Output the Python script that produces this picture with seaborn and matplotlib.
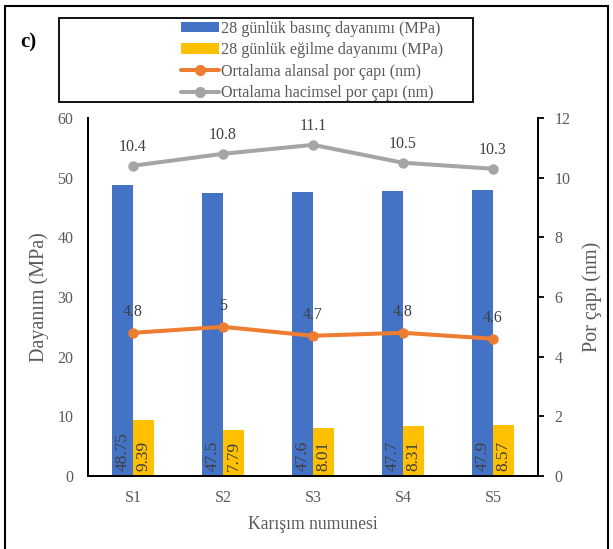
import matplotlib
matplotlib.use("Agg")
import matplotlib.pyplot as plt
from matplotlib.patches import Rectangle
from matplotlib.lines import Line2D
from matplotlib.patches import Patch
import seaborn as sns
import pandas as pd

samples = ["S1", "S2", "S3", "S4", "S5"]
compressive = [48.75, 47.5, 47.6, 47.7, 47.9]
flexural = [9.39, 7.79, 8.01, 8.31, 8.57]
pore_area = [4.8, 5, 4.7, 4.8, 4.6]
pore_volume = [10.4, 10.8, 11.1, 10.5, 10.3]

lbl_comp = "28 günlük basınç dayanımı (MPa)"
lbl_flex = "28 günlük eğilme dayanımı (MPa)"
lbl_area = "Ortalama alansal por çapı (nm)"
lbl_vol = "Ortalama hacimsel por çapı (nm)"

BLUE = "#4472C4"
YELLOW = "#FFC000"
ORANGE = "#ED7D31"
GRAY = "#A5A5A5"
TXT = "#595959"
LBL = "#404040"

sns.set_theme(style="white")
plt.rcParams["font.family"] = ["Liberation Serif", "DejaVu Serif"]

bars = pd.DataFrame({
    "sample": samples * 2,
    "value": compressive + flexural,
    "series": [lbl_comp] * 5 + [lbl_flex] * 5,
})
lines = pd.DataFrame({
    "x": list(range(5)) * 2,
    "value": pore_area + pore_volume,
    "series": [lbl_area] * 5 + [lbl_vol] * 5,
})

fig = plt.figure(figsize=(6.13, 5.49), dpi=100)
ax = fig.add_axes([88 / 613, 1 - 476 / 549, 450 / 613, 358 / 549])

sns.barplot(data=bars, x="sample", y="value", hue="series",
            palette=[BLUE, YELLOW], width=0.47, gap=0, ax=ax,
            legend=False, edgecolor="none", saturation=1)
ax.set_ylim(0, 60)
ax.set_yticks(range(0, 61, 10))
ax.set_xlim(-0.5, 4.5)

# value labels written vertically at the foot of each bar
for cont, vals in zip(ax.containers, [compressive, flexural]):
    for rect, v in zip(cont, vals):
        ax.text(rect.get_x() + rect.get_width() / 2, 0.8, f"{v:g}",
                rotation=90, ha="center", va="bottom", fontsize=12.5,
                color=LBL)

ax2 = ax.twinx()
sns.lineplot(data=lines, x="x", y="value", hue="series",
             palette=[ORANGE, GRAY], marker="o", markersize=7.5,
             markeredgecolor="none", linewidth=2.9, ax=ax2, legend=False)
ax2.set_ylim(0, 12)
ax2.set_yticks(range(0, 13, 2))
ax2.set_xlim(-0.5, 4.5)

for i, v in enumerate(pore_volume):
    ax2.annotate(f"{v:g}", (i, v), xytext=(0, 8), textcoords="offset points",
                 ha="center", va="bottom", fontsize=11.5, color=LBL)
for i, v in enumerate(pore_area):
    ax2.annotate(f"{v:g}", (i, v), xytext=(0, 9), textcoords="offset points",
                 ha="center", va="bottom", fontsize=11.5, color=LBL)

for a in (ax, ax2):
    for s in a.spines.values():
        s.set_color("black")
        s.set_linewidth(1.3)
    a.spines["top"].set_visible(False)

ax.set_xlabel("Karışım numunesi", fontsize=12.7, color=TXT, labelpad=7)
ax.set_ylabel("Dayanım (MPa)", fontsize=14.5, color=TXT, labelpad=6)
ax2.set_ylabel("Por çapı (nm)", fontsize=14.5, color=TXT, labelpad=8)

ax.tick_params(axis="y", length=0, pad=10.5, labelsize=11.5, labelcolor=TXT)
ax.tick_params(axis="x", length=0, pad=10, labelsize=11.5, labelcolor=TXT)
ax2.tick_params(axis="y", length=4, width=1.3, color="black", direction="out",
                pad=8, labelsize=11.5, labelcolor=TXT)
ax2.set_xlabel("")

# outer frame of the panel
fig.patches.append(Rectangle((5 / 613, -0.05), 603 / 613, 1 - 6 / 549 + 0.05,
                             transform=fig.transFigure, fill=False,
                             edgecolor="black", linewidth=1.5))

# legend frame
fig.patches.append(Rectangle((59 / 613, 1 - 102 / 549), 414 / 613, 84 / 549,
                             transform=fig.transFigure, fill=False,
                             edgecolor="black", linewidth=1.3))

handles = [
    Patch(facecolor=BLUE, edgecolor="none"),
    Patch(facecolor=YELLOW, edgecolor="none"),
    Line2D([], [], color=ORANGE, lw=2.9, marker="o", ms=7),
    Line2D([], [], color=GRAY, lw=2.9, marker="o", ms=7),
]
fig.legend(handles, [lbl_comp, lbl_flex, lbl_area, lbl_vol],
           loc="center", bbox_to_anchor=(312 / 613, 1 - 61 / 549),
           frameon=False, fontsize=11.6, labelcolor=TXT,
           handlelength=2.4, handleheight=0.6, handletextpad=0.1,
           labelspacing=0.35, borderpad=0)

fig.text(20 / 613, 1 - 42 / 549, "c)", fontsize=15, fontweight="bold",
         ha="left", va="center", color="black")

fig.savefig("out.png", dpi=100)
